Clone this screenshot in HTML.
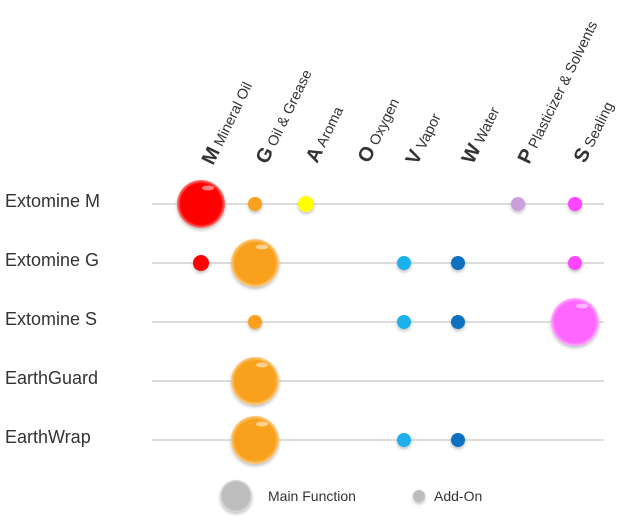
<!DOCTYPE html>
<html><head><meta charset="utf-8"><style>
html,body{margin:0;padding:0;background:#fff;}
svg{display:block;font-family:"Liberation Sans",Arial,sans-serif;}
</style></head><body>
<svg width="630" height="526" viewBox="0 0 630 526" xmlns="http://www.w3.org/2000/svg">
<defs>
<radialGradient id="sh" cx="0.5" cy="0.5" r="0.5"><stop offset="0.85" stop-color="#fff" stop-opacity="0"/><stop offset="1" stop-color="#fff" stop-opacity="0.5"/></radialGradient>
<filter id="ds" x="-30%" y="-30%" width="160%" height="170%"><feDropShadow dx="0" dy="2" stdDeviation="1.5" flood-color="#000" flood-opacity="0.25"/></filter>
</defs>
<g stroke="#c8c8c8" stroke-width="1.3">
<line x1="152" y1="204" x2="604" y2="204"/>
<line x1="152" y1="263" x2="604" y2="263"/>
<line x1="152" y1="322" x2="604" y2="322"/>
<line x1="152" y1="381" x2="604" y2="381"/>
<line x1="152" y1="440" x2="604" y2="440"/>
</g>
<g font-size="18" fill="#333">
<text x="5" y="207">Extomine M</text>
<text x="5" y="266">Extomine G</text>
<text x="5" y="325">Extomine S</text>
<text x="5" y="384">EarthGuard</text>
<text x="5" y="443">EarthWrap</text>
</g>
<g fill="#333" font-size="14.5">
<text transform="translate(213,166) rotate(-64)"><tspan font-weight="bold" font-size="20">M</tspan> Mineral Oil</text>
<text transform="translate(267,165) rotate(-64)"><tspan font-weight="bold" font-size="20">G</tspan> Oil &amp; Grease</text>
<text transform="translate(317,164) rotate(-64)"><tspan font-weight="bold" font-size="20">A</tspan> Aroma</text>
<text transform="translate(369,164) rotate(-64)"><tspan font-weight="bold" font-size="20">O</tspan> Oxygen</text>
<text transform="translate(417,166) rotate(-64)"><tspan font-weight="bold" font-size="20">V</tspan> Vapor</text>
<text transform="translate(473,165) rotate(-64)"><tspan font-weight="bold" font-size="20">W</tspan> Water</text>
<text transform="translate(529,165) rotate(-64)"><tspan font-weight="bold" font-size="20">P</tspan> Plasticizer &amp; Solvents</text>
<text transform="translate(585,164) rotate(-64)"><tspan font-weight="bold" font-size="20">S</tspan> Sealing</text>
</g>
<g filter="url(#ds)">
<circle cx="201" cy="204" r="24" fill="#ff0000"/>
<circle cx="255" cy="204" r="7" fill="#f9a11b"/>
<circle cx="306" cy="204" r="8" fill="#ffff00"/>
<circle cx="518" cy="204" r="7" fill="#c9a0dc"/>
<circle cx="575" cy="204" r="7" fill="#ff44ff"/>
<circle cx="201" cy="263" r="8" fill="#ff0000"/>
<circle cx="255" cy="263" r="24" fill="#f9a11b"/>
<circle cx="404" cy="263" r="7" fill="#1ab0ec"/>
<circle cx="458" cy="263" r="7" fill="#1070c0"/>
<circle cx="575" cy="263" r="7" fill="#ff44ff"/>
<circle cx="255" cy="322" r="7" fill="#f9a11b"/>
<circle cx="404" cy="322" r="7" fill="#1ab0ec"/>
<circle cx="458" cy="322" r="7" fill="#1070c0"/>
<circle cx="575" cy="322" r="24" fill="#ff66ff"/>
<circle cx="255" cy="381" r="24" fill="#f9a11b"/>
<circle cx="255" cy="440" r="24" fill="#f9a11b"/>
<circle cx="404" cy="440" r="7" fill="#1ab0ec"/>
<circle cx="458" cy="440" r="7" fill="#1070c0"/>
<circle cx="236" cy="496" r="16" fill="#bdbdbd"/>
<circle cx="419" cy="496" r="6" fill="#bdbdbd"/>
</g>
<g fill="url(#sh)">
<circle cx="201" cy="204" r="24"/><circle cx="255" cy="263" r="24"/><circle cx="575" cy="322" r="24"/>
<circle cx="255" cy="381" r="24"/><circle cx="255" cy="440" r="24"/><circle cx="236" cy="496" r="16"/>
</g>
<g fill="#fff" opacity="0.5">
<ellipse cx="208" cy="188" rx="6" ry="2.5"/><ellipse cx="262" cy="247" rx="6" ry="2.5"/><ellipse cx="582" cy="306" rx="6" ry="2.5"/>
<ellipse cx="262" cy="365" rx="6" ry="2.5"/><ellipse cx="262" cy="424" rx="6" ry="2.5"/>
</g>
<g font-size="14" fill="#333">
<text x="268" y="501">Main Function</text>
<text x="434" y="501">Add-On</text>
</g>
</svg>
</body></html>
